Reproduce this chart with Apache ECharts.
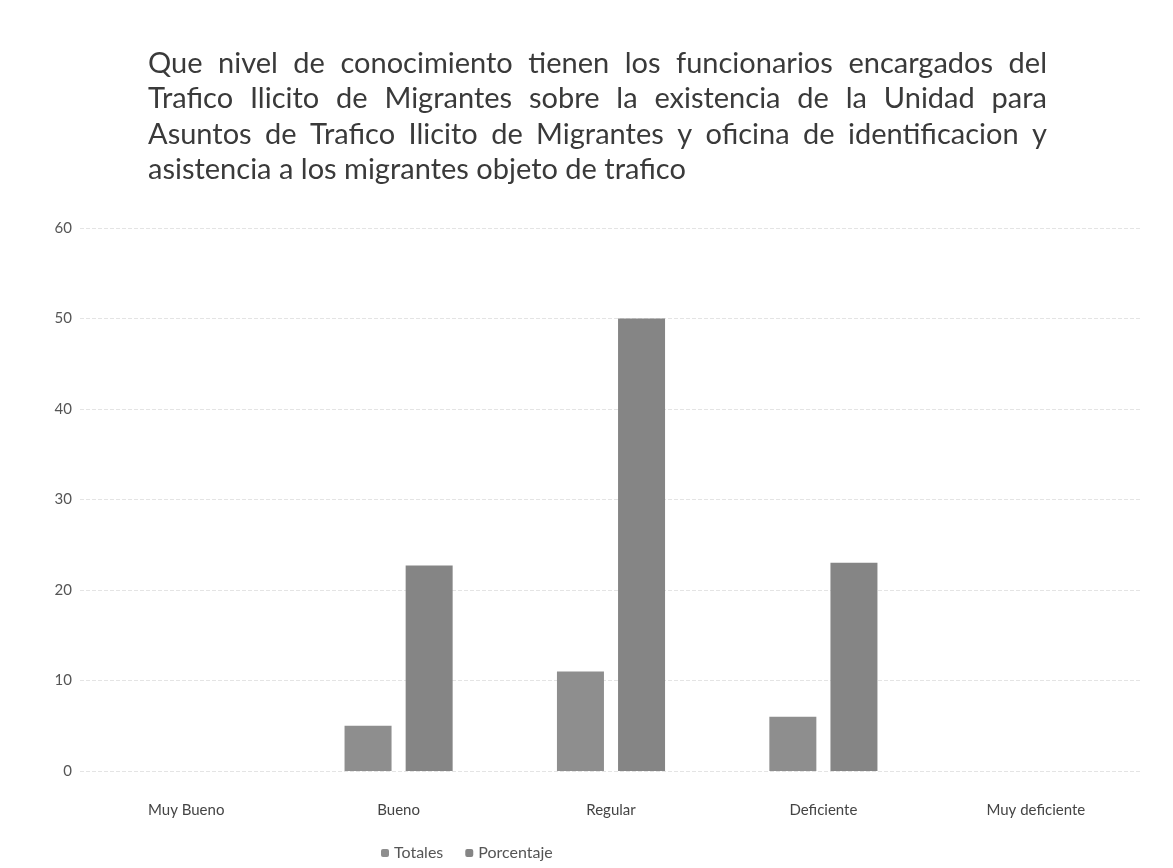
<!DOCTYPE html>
<html>
<head>
<meta charset="utf-8">
<script src="https://cdn.jsdelivr.net/npm/echarts@6/dist/echarts.min.js"></script>
<style>
    html, body { margin: 0; padding: 0; background: #fff; }
    #chart { width: 1173px; height: 868px; }
</style>
</head>
<body>
<div id="chart"></div>
<script>
    const titleLines = [
        'Que nivel de conocimiento tienen los funcionarios encargados del',
        'Trafico Ilicito de Migrantes sobre la existencia de la Unidad para',
        'Asuntos de Trafico Ilicito de Migrantes y oficina de identificacion y',
        'asistencia a los migrantes objeto de trafico'
    ];
    const categories = ['Muy Bueno', 'Bueno', 'Regular', 'Deficiente', 'Muy deficiente'];
    const totales = [0, 5, 11, 6, 0];
    const porcentaje = [0, 22.7, 50, 23, 0];

    const titleFont = '29px Lato';
    const titleLeft = 148;
    const titleRight = 1047;

    // justificar las lineas del titulo como en el documento original
    const ctx = document.createElement('canvas').getContext('2d');
    ctx.font = titleFont;
    const titleGraphics = [];
    titleLines.forEach((line, i) => {
        const y = 66 + i * 35.5;
        const words = line.split(' ');
        const last = i === titleLines.length - 1;
        const widths = words.map(w => ctx.measureText(w).width);
        const total = widths.reduce((a, b) => a + b, 0);
        const gap = last ? ctx.measureText(' ').width : (titleRight - titleLeft - total) / (words.length - 1);
        let x = titleLeft;
        words.forEach((w, j) => {
            titleGraphics.push({
                type: 'text',
                left: x,
                top: y - 17,
                style: { text: w, font: titleFont, fill: '#3a3a3a' }
            });
            x += widths[j] + gap;
        });
    });

    const myChart = echarts.init(document.getElementById('chart'));
    const option = {
        animation: false,
        textStyle: { fontFamily: 'Lato' },
        graphic: titleGraphics,
        legend: {
            left: 376,
            bottom: 2,
            itemWidth: 8,
            itemHeight: 8,
            itemGap: 22,
            textStyle: { color: '#555', fontSize: 16 },
            data: ['Totales', 'Porcentaje']
        },
        grid: {
            left: 80,
            right: 31,
            top: 228,
            bottom: 97
        },
        xAxis: {
            type: 'category',
            data: categories,
            axisLine: { show: false },
            axisTick: { show: false },
            axisLabel: { color: '#444', fontSize: 15, margin: 32 }
        },
        yAxis: {
            type: 'value',
            min: 0,
            max: 60,
            interval: 10,
            axisLine: { show: false },
            axisTick: { show: false },
            axisLabel: { color: '#555', fontSize: 15, margin: 8 },
            splitLine: { lineStyle: { color: '#e4e4e4', type: 'dashed' } }
        },
        series: [
            {
                name: 'Totales',
                type: 'bar',
                data: totales,
                barWidth: 47,
                barGap: '30%',
                itemStyle: { color: '#8e8e8e' }
            },
            {
                name: 'Porcentaje',
                type: 'bar',
                data: porcentaje,
                barWidth: 47,
                itemStyle: { color: '#858585' }
            }
        ]
    };
    myChart.setOption(option);
    window.addEventListener('resize', function () {
        myChart.resize();
    });
</script>
</body>
</html>
